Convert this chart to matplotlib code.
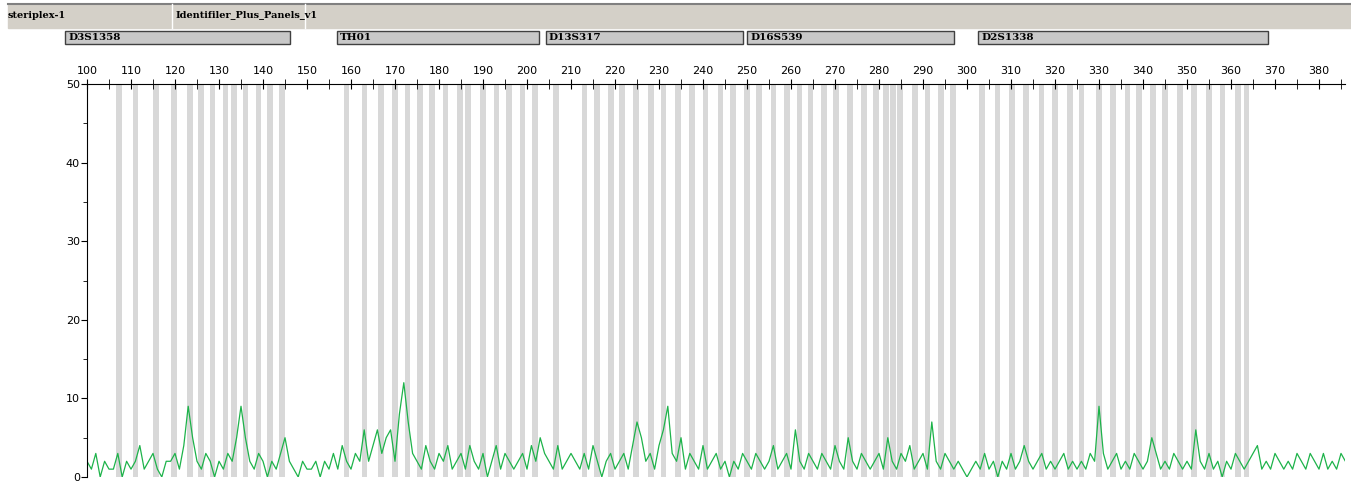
import matplotlib
matplotlib.use('Agg')
import matplotlib.pyplot as plt
import numpy as np
from matplotlib.patches import Rectangle

# bp grid, 1 bp per value, starting at 100
start_bp = 100
rfu = [
    2, 1, 3, 0, 2, 1, 1, 3, 0, 2,   1, 2, 4, 1, 2, 3, 1, 0, 2, 2,
    3, 1, 4, 9, 5, 2, 1, 3, 2, 0,   2, 1, 3, 2, 5, 9, 5, 2, 1, 3,
    2, 0, 2, 1, 3, 5, 2, 1, 0, 2,   1, 1, 2, 0, 2, 1, 3, 1, 4, 2,
    1, 3, 2, 6, 2, 4, 6, 3, 5, 6,   2, 8, 12, 7, 3, 2, 1, 4, 2, 1,
    3, 2, 4, 1, 2, 3, 1, 4, 2, 1,   3, 0, 2, 4, 1, 3, 2, 1, 2, 3,
    1, 4, 2, 5, 3, 2, 1, 4, 1, 2,   3, 2, 1, 3, 1, 4, 2, 0, 2, 3,
    1, 2, 3, 1, 4, 7, 5, 2, 3, 1,   4, 6, 9, 3, 2, 5, 1, 3, 2, 1,
    4, 1, 2, 3, 1, 2, 0, 2, 1, 3,   2, 1, 3, 2, 1, 2, 4, 1, 2, 3,
    1, 6, 2, 1, 3, 2, 1, 3, 2, 1,   4, 2, 1, 5, 2, 1, 3, 2, 1, 2,
    3, 1, 5, 2, 1, 3, 2, 4, 1, 2,   3, 1, 7, 2, 1, 3, 2, 1, 2, 1,
    0, 1, 2, 1, 3, 1, 2, 0, 2, 1,   3, 1, 2, 4, 2, 1, 2, 3, 1, 2,
    1, 2, 3, 1, 2, 1, 2, 1, 3, 2,   9, 3, 1, 2, 3, 1, 2, 1, 3, 2,
    1, 2, 5, 3, 1, 2, 1, 3, 2, 1,   2, 1, 6, 2, 1, 3, 1, 2, 0, 2,
    1, 3, 2, 1, 2, 3, 4, 1, 2, 1,   3, 2, 1, 2, 1, 3, 2, 1, 3, 2,
    1, 3, 1, 2, 1, 3, 2, 4, 3, 2,   1, 3, 2, 3, 1, 2, 3, 2, 1, 2,
]
bins = [107.3, 111.1, 115.7, 119.8, 123.4, 125.9, 128.6, 131.4, 133.4, 136.1, 138.9, 141.6, 144.3,
        158.9, 163.0, 166.8, 170.0, 172.9, 175.7, 178.4, 181.4, 184.8, 186.6, 190.0, 193.0, 195.9, 198.9, 201.8,
        206.6, 213.0, 215.9, 219.1, 221.6, 224.8, 228.2, 231.1, 234.3, 237.5, 240.5, 243.9, 246.8, 250.0,
        252.7, 256.1, 259.1, 262.0, 264.5, 267.5, 270.2, 273.4, 276.6, 279.3, 281.6, 283.2, 284.8, 288.2,
        291.1, 294.1, 296.8,
        303.4, 307.0, 310.2, 313.4, 317.0, 320.0, 323.4, 326.1, 330.0, 333.2, 336.4, 339.1, 342.3, 345.0,
        348.4, 351.6, 355.0, 358.0, 361.6, 363.6]
markers = ['D3S1358', 'TH01', 'D13S317', 'D16S539', 'D2S1338']
marker_start = [95.0, 156.8, 204.3, 250.0, 302.5]
marker_end = [146.1, 202.7, 249.1, 297.0, 368.4]

fig = plt.figure(figsize=(13.51, 4.82), dpi=100)
W, H = 1351, 482
ax = fig.add_axes([87 / W, 1 - 477 / H, (1345 - 87) / W, (477 - 84) / H])
x0, x1 = 100, 100 + (1345 - 87) / 4.4

for b in bins:
    ax.axvspan(b - 0.6, b + 0.6, color='#d8d8d8', lw=0)
x = start_bp + np.arange(len(rfu))
ax.plot(x, rfu, color='#1db34a', lw=0.9)

ax.set_xlim(x0, x1)
ax.set_ylim(0, 50)
ax.xaxis.tick_top()
ax.set_xticks(np.arange(100, 390, 10))
ax.set_xticks(np.arange(105, 386, 10), minor=True)
ax.set_yticks(np.arange(0, 51, 10))
ax.set_yticks(np.arange(5, 50, 10), minor=True)
ax.tick_params(axis='x', which='both', direction='inout', length=7, labelsize=8, pad=2)
ax.tick_params(axis='y', which='both', direction='out', length=4, labelsize=8, pad=1)
ax.tick_params(axis='y', which='minor', length=3)
for s in ['right', 'bottom']:
    ax.spines[s].set_visible(False)

# header strip
hdr = fig.add_axes([0, 0, 1, 1], zorder=-1)
hdr.set_xlim(0, W)
hdr.set_ylim(H, 0)
hdr.axis('off')
hdr.add_patch(Rectangle((8, 4), 1343, 24, color='#d4d0c8'))
hdr.plot([8, 1351], [4, 4], color='#808080', lw=1.5)
hdr.plot([172, 172], [4, 28], color='white', lw=1)
hdr.plot([305, 305], [4, 28], color='white', lw=1)
hdr.text(8, 15, 'steriplex-1', fontsize=7, family='DejaVu Serif', weight='bold', va='center')
hdr.text(176, 15, 'Identifiler_Plus_Panels_v1', fontsize=7, family='DejaVu Serif', weight='bold', va='center')
for name, a, b in zip(markers, marker_start, marker_end):
    px0 = 87 + (a - 100) * 4.4
    px1 = 87 + (b - 100) * 4.4
    hdr.add_patch(Rectangle((px0, 31), px1 - px0, 13, facecolor='#c8c8c8', edgecolor='#404040', lw=1))
    hdr.text(px0 + 3, 37.5, name, fontsize=7.5, family='DejaVu Serif', weight='bold', va='center')

fig.savefig('out.png', dpi=100)
